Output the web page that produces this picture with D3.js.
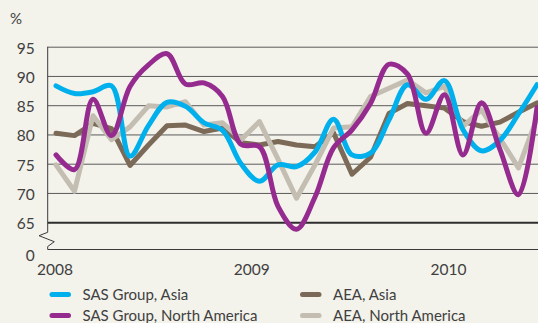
<!DOCTYPE html>
<html>
<head>
<meta charset="utf-8">
<script src="https://cdn.jsdelivr.net/npm/d3@7"></script>
<style>
  html, body { margin: 0; padding: 0; background: #f3f2eb; overflow: hidden; }
  svg { display: block; }
  text { font-family: Lato, "Noto Sans", sans-serif; fill: #404040; }
</style>
</head>
<body>
<svg id="chart" width="538" height="323"></svg>
<script>
// Periods along the x axis (index of each observation)
const periods = d3.range(27);

// Load factor, %
const sasAsia = [88.3, 87.0, 87.3, 88.3, 76.3, 81.5, 85.5, 84.8, 82.0, 80.7, 75.0, 72.0, 74.8, 74.5,
                 77.0, 82.6, 76.5, 76.8, 82.5, 88.5, 86.0, 89.2, 80.8, 77.2, 79.0, 83.5, 88.5];
const sasNorthAmerica = [76.5, 74.0, 86.0, 79.8, 88.2, 91.9, 93.8, 88.6, 88.8, 86.5, 78.3, 77.9, 67.7, 63.8,
                 69.3, 77.7, 80.8, 85.3, 92.0, 90.3, 80.2, 86.8, 76.5, 85.4, 77.4, 69.7, 84.6];
const aeaAsia = [80.2, 79.8, 81.9, 81.0, 74.7, 78.2, 81.5, 81.6, 80.5, 81.1, 78.6, 78.2, 78.8, 78.2,
                 77.9, 80.3, 73.2, 76.1, 83.6, 85.3, 84.9, 84.5, 82.2, 81.4, 82.1, 83.8, 85.4];
const aeaNorthAmerica = [74.8, 70.3, 83.2, 79.1, 81.3, 84.9, 84.7, 85.6, 81.6, 82.0, 79.1, 82.2, 75.8, 69.1,
                 74.8, 81.1, 81.3, 86.5, 87.9, 89.3, 87.1, 88.2, 81.4, 84.2, 79.3, 74.3, 82.8];

const yTicks = [65, 70, 75, 80, 85, 90, 95];
const yearLabels = [2008, 2009, 2010];
const seriesNames = ["SAS Group, Asia", "SAS Group, North America", "AEA, Asia", "AEA, North America"];

const series = [
  { name: seriesNames[2], values: aeaAsia, color: "#7b6a57", curve: d3.curveLinear, legend: [1, 0] },
  { name: seriesNames[3], values: aeaNorthAmerica, color: "#c3bdb2", curve: d3.curveLinear, legend: [1, 1] },
  { name: seriesNames[0], values: sasAsia, color: "#00b0ec", curve: d3.curveCatmullRom.alpha(0.5), legend: [0, 0] },
  { name: seriesNames[1], values: sasNorthAmerica, color: "#952b8f", curve: d3.curveCatmullRom.alpha(0.5), legend: [0, 1] }
];

const svg = d3.select("#chart");
const W = 538;
const axisX = 47.7;
const fontSize = "15px";

const x = d3.scaleLinear().domain([0, 26]).range([56, 537]);
const xYear = d3.scaleLinear().domain([2008, 2010]).range([55, 448.5]);
const y = d3.scaleLinear().domain([65, 95]).range([222.2, 46.7]);
const baseY = 249.5;

// Percent unit label
svg.append("text").attr("x", 10).attr("y", 24).style("font-size", fontSize).text("%");

// Horizontal grid + tick labels
const yAxis = d3.axisLeft(y).tickValues(yTicks).tickSize(-(W - axisX)).tickPadding(13);
const gy = svg.append("g").attr("transform", `translate(${axisX},0)`).call(yAxis);
gy.select(".domain").remove();
gy.selectAll(".tick line")
  .attr("stroke", d => d === 65 ? "#2e2e2e" : "#5a5a5a")
  .attr("stroke-width", d => d === 65 ? 2 : 1);
gy.selectAll(".tick text")
  .attr("dy", "0.42em")
  .style("font-size", "15.5px")
  .style("font-family", "Lato, sans-serif")
  .attr("fill", "#404040");

// Zero label below the axis break
svg.append("text")
  .attr("x", axisX - 13).attr("y", 256).attr("dy", "0.35em")
  .attr("text-anchor", "end").style("font-size", "15.5px").text("0");

// Vertical axis with break marker and baseline
const axisPath = d3.path();
axisPath.moveTo(axisX, y(95));
axisPath.lineTo(axisX, 232.3);
axisPath.lineTo(39, 235.7);
axisPath.lineTo(54.3, 241.7);
axisPath.lineTo(axisX, 246.5);
axisPath.lineTo(axisX, baseY);
axisPath.lineTo(W, baseY);
svg.append("path").attr("d", axisPath.toString())
  .attr("fill", "none").attr("stroke", "#3a3a3a").attr("stroke-width", 1);

// Year labels
svg.append("g").selectAll("text").data(yearLabels).join("text")
  .attr("x", d => xYear(d)).attr("y", 275)
  .attr("text-anchor", "middle").style("font-size", "15.5px")
  .text(d => d);

// Series lines
const plot = svg.append("g");
series.forEach(s => {
  const line = d3.line()
    .x((d, i) => x(periods[i]))
    .y(d => y(d))
    .curve(s.curve);
  plot.append("path")
    .datum(s.values)
    .attr("d", line)
    .attr("fill", "none")
    .attr("stroke", s.color)
    .attr("stroke-width", 5)
    .attr("stroke-linejoin", "round")
    .attr("stroke-linecap", "round");
});

// Legend (two columns, two rows)
const legendCols = [49.5, 300];
const legendRows = [294.5, 315.5];
const lg = svg.append("g");
series.forEach(s => {
  const lx = legendCols[s.legend[0]], ly = legendRows[s.legend[1]];
  lg.append("line")
    .attr("x1", lx + 2.5).attr("x2", lx + 19)
    .attr("y1", ly).attr("y2", ly)
    .attr("stroke", s.color).attr("stroke-width", 5).attr("stroke-linecap", "round");
  lg.append("text")
    .attr("x", lx + 33).attr("y", ly).attr("dy", "0.36em")
    .style("font-size", fontSize)
    .text(s.name);
});
</script>
</body>
</html>
